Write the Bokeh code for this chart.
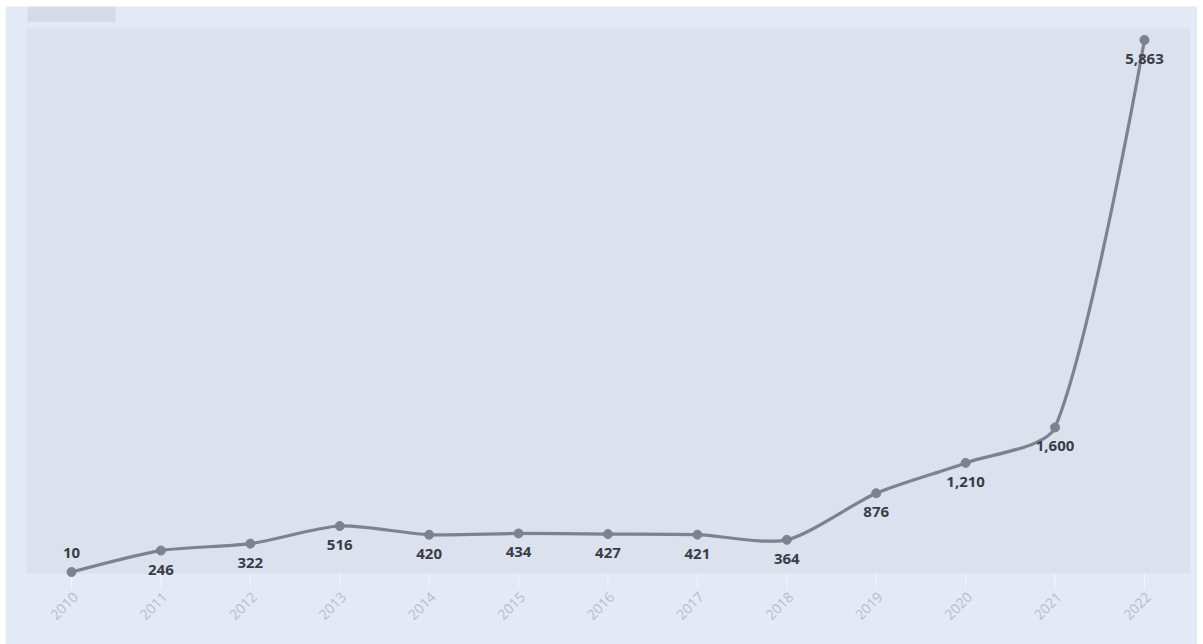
import math

from bokeh.core.properties import value
from bokeh.embed import file_html
from bokeh.models import BoxAnnotation, ColumnDataSource, Range1d
from bokeh.plotting import figure
from bokeh.resources import INLINE

# Yearly totals
years = [2010, 2011, 2012, 2013, 2014, 2015, 2016, 2017, 2018, 2019, 2020, 2021, 2022]
counts = [10, 246, 322, 516, 420, 434, 427, 421, 364, 876, 1210, 1600, 5863]
count_labels = [f"{c:,}" for c in counts]
year_labels = [str(y) for y in years]

OUTER_BG = "#e4e9f6"
PLOT_BG = "#dce1ee"
TAG_BG = "#d5dae6"
LINE_COLOR = "#7f828c"
LABEL_COLOR = "#3a3d45"
TICK_COLOR = "#b6bccb"

# frame geometry (the frame fills the whole panel, axis drawn by hand)
FW, FH = 1192, 638
AREA_H = 567              # height of the shaded plotting area in px
X0, X1 = 2009.262, 2022.593
Y_AREA_BOTTOM, Y1 = -6.5, 6231.0
SX = FW / (X1 - X0)
SY = AREA_H / (Y1 - Y_AREA_BOTTOM)
Y0 = Y_AREA_BOTTOM - (FH - AREA_H) / SY


def smooth_segments(xs, ys, smooth=0.25):
    """Cubic bezier control points for a smoothed polyline (computed in pixel space)."""
    px = [(x - X0) * SX for x in xs]
    py = [(y - Y0) * SY for y in ys]
    n = len(px)
    cp_prev = [(px[i], py[i]) for i in range(n)]
    cp_next = [(px[i], py[i]) for i in range(n)]
    for i in range(1, n - 1):
        vx = px[i + 1] - px[i - 1]
        vy = py[i + 1] - py[i - 1]
        d0 = math.hypot(px[i] - px[i - 1], py[i] - py[i - 1])
        d1 = math.hypot(px[i + 1] - px[i], py[i + 1] - py[i])
        r = d1 / (d0 + d1)
        cp_prev[i] = (px[i] - vx * smooth * (1 - r), py[i] - vy * smooth * (1 - r))
        cp_next[i] = (px[i] + vx * smooth * r, py[i] + vy * smooth * r)

    def to_data(pt):
        return pt[0] / SX + X0, pt[1] / SY + Y0

    seg = dict(x0=[], y0=[], x1=[], y1=[], cx0=[], cy0=[], cx1=[], cy1=[])
    for i in range(n - 1):
        a = to_data((px[i], py[i]))
        b = to_data((px[i + 1], py[i + 1]))
        c0 = to_data(cp_next[i])
        c1 = to_data(cp_prev[i + 1])
        seg["x0"].append(a[0]); seg["y0"].append(a[1])
        seg["x1"].append(b[0]); seg["y1"].append(b[1])
        seg["cx0"].append(c0[0]); seg["cy0"].append(c0[1])
        seg["cx1"].append(c1[0]); seg["cy1"].append(c1[1])
    return seg


p = figure(
    frame_width=FW,
    frame_height=FH,
    x_range=Range1d(X0, X1),
    y_range=Range1d(Y0, Y1),
    output_backend="svg",
    toolbar_location=None,
    min_border=0,
    background_fill_color=OUTER_BG,
    border_fill_color=OUTER_BG,
    outline_line_color=None,
    margin=(6, 6, 0, 5),
)
p.axis.visible = False
p.grid.visible = False

# shaded plotting area and the small tag box at the top left
p.add_layout(BoxAnnotation(left=2009.5, right=2022.51, bottom=Y_AREA_BOTTOM, top=5990,
                           fill_color=PLOT_BG, fill_alpha=1, line_alpha=0, level="underlay"))
p.add_layout(BoxAnnotation(left=2009.51, right=2010.49, bottom=6061, fill_color=TAG_BG,
                           fill_alpha=1, line_alpha=0, level="underlay"))

# category axis: faint ticks and rotated year labels
tick_len = 15 / SY
axis_src = ColumnDataSource(dict(x=years, label=year_labels))
p.segment(x0="x", x1="x", y0=Y_AREA_BOTTOM, y1=Y_AREA_BOTTOM - tick_len,
          source=axis_src, line_color="#f2f5fc", line_width=1)
p.text(x="x", y=Y_AREA_BOTTOM, text="label", source=axis_src,
       angle=math.pi / 4, x_offset=4, y_offset=21,
       text_align="right", text_baseline="middle",
       text_font=value("Open Sans"), text_font_size="14px", text_color=TICK_COLOR)

seg = smooth_segments(years, counts)
p.bezier(source=ColumnDataSource(seg), x0="x0", y0="y0", x1="x1", y1="y1",
         cx0="cx0", cy0="cy0", cx1="cx1", cy1="cy1",
         line_color=LINE_COLOR, line_width=3.2)

# point labels sit under each marker; the first one goes above (bottom edge)
offsets = [-19 if i == 0 else 19 for i in range(len(counts))]
src = ColumnDataSource(dict(x=years, y=counts, label=count_labels, dy=offsets))
p.scatter("x", "y", source=src, size=9, color=LINE_COLOR)
p.text("x", "y", text="label", source=src, y_offset="dy",
       text_align="center", text_baseline="middle",
       text_font=value("Open Sans"), text_font_style="bold",
       text_font_size="15px", text_color=LABEL_COLOR)

open("out.html", "w").write(file_html(p, INLINE))
